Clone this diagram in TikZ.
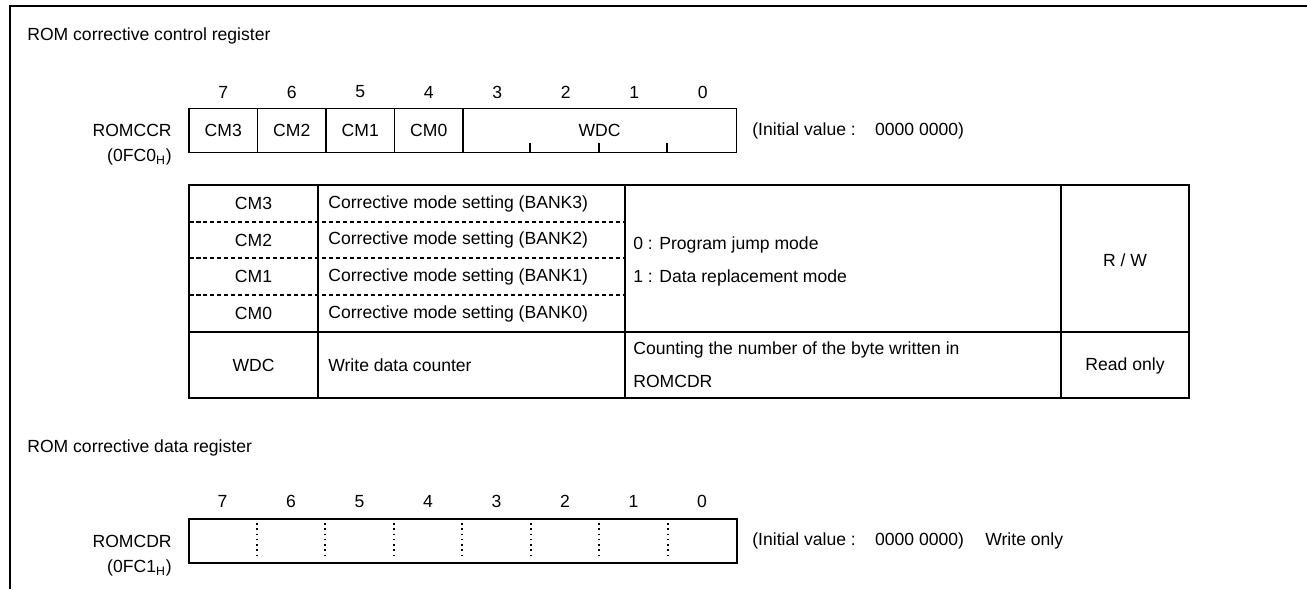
\documentclass[tikz,border=0pt]{standalone}
\usepackage{fontspec}
\setmainfont{Liberation Sans}
\usetikzlibrary{positioning, calc}

\begin{document}
\begin{tikzpicture}[
      x=0.02cm, y=-0.02cm,
      font=\fontsize{10}{12}\selectfont,
      frame/.style={line width=1.2pt},
      bitcell/.style={draw, line width=1pt, minimum width=1.37cm,
        minimum height=0.88cm, inner sep=0pt},
      bitnum/.style={inner sep=1pt},
      tblline/.style={line width=1pt},
      rowsep/.style={line width=1pt, dash pattern=on 0.09cm off 0.05cm},
      dotline/.style={line width=1.2pt, dash pattern=on 0.03cm off 0.075cm},
      cell/.style={inner sep=0pt}
    ]
      \useasboundingbox (0,0) rectangle (1307,589);
      \draw[frame] (10,589) -- (10,6) -- (1307,6);

      % ROM corrective control register
      \node[anchor=west, cell] (ccrtitle) at (27,36) {ROM corrective control register};
      \foreach \b/\name in {7/CM3, 6/CM2, 5/CM1, 4/CM0}
        \node[bitcell] (ccr\b) at ({189+68.5*(7-\b)+34.25},130.5) {\name};
      \node[bitcell, minimum width=5.48cm] (wdc) at (599.5,130.5) {WDC};
      \foreach \i in {1,2,3}
        \draw[tblline] ($(wdc.south west)+(68.5*\i,0)$) -- ++(0,-10);
      \foreach \b in {7,...,0}
        \node[bitnum] (ccrn\b) at ({189+68.5*(7-\b)+34.25},92) {\b};
      \node[anchor=east, cell] (ccrname) at (172,130.5) {ROMCCR};
      \node[anchor=east, cell] (ccraddr) at (172,157) {(0FC0\textsubscript{H})};
      \node[anchor=west, cell] (ccrinit) at (752,130.5)
        {(Initial value :\hspace{1.1em}0000 0000)};

      % bit table
      \draw[tblline] (189,185) rectangle (1189,398);
      \draw[tblline] (318,185) -- (318,398);
      \draw[tblline] (625,185) -- (625,398);
      \draw[tblline] (1061,185) -- (1061,398);
      \draw[tblline] (189,332) -- (1189,332);
      \foreach \y in {222,258,295}
        \draw[rowsep] (189,\y) -- (625,\y);
      \foreach \k/\y in {3/203.5, 2/240, 1/276.5, 0/313.5} {
        \node[cell] (cmname\k) at (253.5,\y) {CM\k};
        \node[anchor=west, cell] (cmdesc\k) at (328,\y)
          {Corrective mode setting (BANK\k)};
      }
      \node[anchor=west, cell] (modejump) at (633,245) {0 : Program jump mode};
      \node[anchor=west, cell] (modedata) at (633,278) {1 : Data replacement mode};
      \node[cell] (cmaccess) at (1125,260) {R / W};
      \node[cell] (wdcname) at (253.5,365) {WDC};
      \node[anchor=west, cell] (wdcdesc) at (328,365) {Write data counter};
      \node[anchor=west, cell] (wdccount) at (633,350)
        {Counting the number of the byte written in};
      \node[anchor=west, cell] (wdccdr) at (633,381) {ROMCDR};
      \node[cell] (wdcaccess) at (1125,366) {Read only};

      % ROM corrective data register
      \node[anchor=west, cell] (cdrtitle) at (27,448) {ROM corrective data register};
      \node[bitcell, minimum width=10.96cm] (cdr) at (463,541) {};
      \foreach \k in {1,...,7}
        \draw[dotline] ($(cdr.north west)+(68.5*\k,5)$) -- ($(cdr.south west)+(68.5*\k,-5)$);
      \foreach \b in {7,...,0}
        \node[bitnum] (cdrn\b) at ($(cdr.north west)+({68.5*(7-\b)+34.25},-17)$) {\b};
      \node[anchor=east, cell] (cdrname) at (172,541) {ROMCDR};
      \node[anchor=east, cell] (cdraddr) at (172,568) {(0FC1\textsubscript{H})};
      \node[anchor=west, cell] (cdrinit) at (752,541)
        {(Initial value :\hspace{1.1em}0000 0000)};
      \node[anchor=west, cell] (cdrwrite) at (985,541) {Write only};
\end{tikzpicture}
\end{document}
